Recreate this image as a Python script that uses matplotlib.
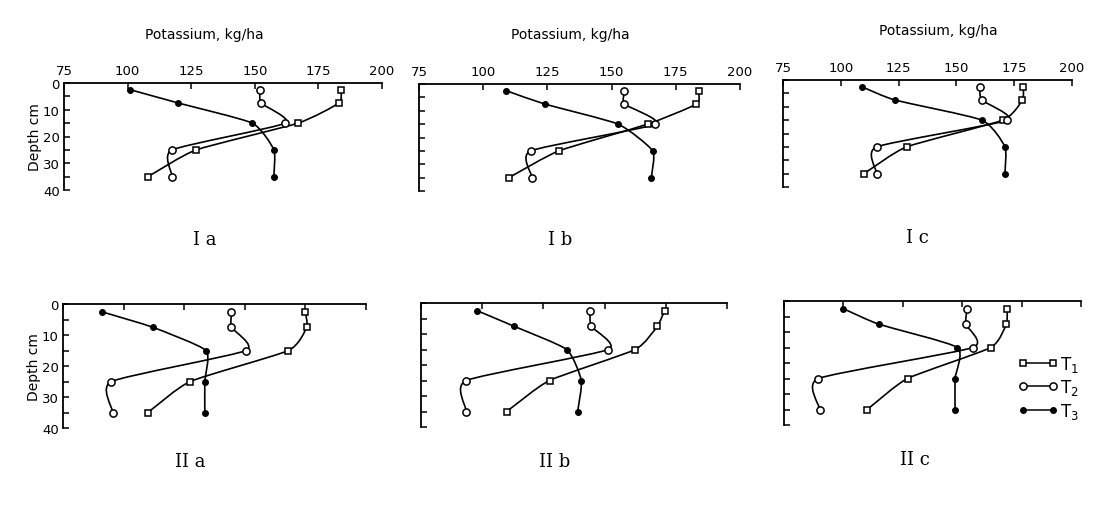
"""Depth profiles of available potassium under treatments T1-T3 (six panels)."""

import matplotlib

matplotlib.use("Agg")
import matplotlib.pyplot as plt
import numpy as np
from matplotlib.lines import Line2D
from matplotlib.patches import PathPatch
from matplotlib.path import Path


DEPTHS = [2.5, 7.5, 15, 25, 35]
X_TICKS = [75, 100, 125, 150, 175, 200]
Y_TICKS = [0, 10, 20, 30, 40]
Y_MINOR = [5, 15, 25, 35]

# potassium, kg/ha, per panel and treatment
IA_T1 = [184, 183, 167, 127, 108]
IA_T2 = [152, 152.5, 162, 117.5, 117.5]
IA_T3 = [101, 120, 149, 157.5, 157.5]

IB_T1 = [184, 183, 164, 129.5, 110]
IB_T2 = [155, 155, 167, 118.5, 119]
IB_T3 = [109, 124, 152.5, 166, 165.5]

IC_T1 = [179, 178.5, 170, 128.5, 110]
IC_T2 = [160, 161, 172, 115.5, 115.5]
IC_T3 = [109, 123.5, 161, 171, 171]

IIA_T1 = [175, 175.5, 168, 127.5, 110]
IIA_T2 = [144.5, 144.5, 150.5, 95, 95.5]
IIA_T3 = [91, 112, 134, 133.5, 133.5]

IIB_T1 = [174.5, 171.5, 162.5, 127.5, 110]
IIB_T2 = [144, 144.5, 151.5, 93.5, 93.5]
IIB_T3 = [98, 113, 134.5, 140.5, 139]

IIC_T1 = [169, 168.5, 162, 127, 110]
IIC_T2 = [152, 151.5, 154.5, 89.5, 90]
IIC_T3 = [100, 115, 148, 147, 147]

PANELS = [
    ("I a", (IA_T1, IA_T2, IA_T3)),
    ("I b", (IB_T1, IB_T2, IB_T3)),
    ("I c", (IC_T1, IC_T2, IC_T3)),
    ("II a", (IIA_T1, IIA_T2, IIA_T3)),
    ("II b", (IIB_T1, IIB_T2, IIB_T3)),
    ("II c", (IIC_T1, IIC_T2, IIC_T3)),
]
TREATMENTS = ["T$_1$", "T$_2$", "T$_3$"]

W, H = 1098, 510
# axes boxes in pixels: left, top, right, bottom
BOXES = [
    (64, 84, 382, 191),
    (419, 85, 740, 192),
    (783, 81, 1072, 188),
    (63, 305, 366, 429),
    (421, 304, 727, 428),
    (784, 302, 1081, 426),
]
LABEL_POS = [(205, 240), (560, 240), (917, 238), (190, 462), (555, 462), (915, 460)]
TITLE_POS = [(204, 35), (570, 35), (938, 31)]

MARKERS = [
    dict(marker="s", markersize=4.2, markerfacecolor="white", markeredgewidth=1.1),
    dict(marker="o", markersize=5.2, markerfacecolor="white", markeredgewidth=1.1),
    dict(marker="o", markersize=4.0, markerfacecolor="black", markeredgewidth=1.0),
]
TENSION = 0.55


def _smooth_path(x, y):
    # cardinal spline through the points, drawn as cubic bezier segments
    pts = np.column_stack([x, y]).astype(float)
    ext = np.vstack([2 * pts[0] - pts[1], pts, 2 * pts[-1] - pts[-2]])
    verts = [pts[0]]
    codes = [Path.MOVETO]
    for i in range(1, len(ext) - 2):
        p0, p1, p2, p3 = ext[i - 1], ext[i], ext[i + 1], ext[i + 2]
        verts += [p1 + TENSION * (p2 - p0) / 6.0, p2 - TENSION * (p3 - p1) / 6.0, p2]
        codes += [Path.CURVE4] * 3
    return Path(verts, codes)


def _axes(fig, box):
    left, top, right, bottom = box
    return fig.add_axes([left / W, 1 - bottom / H, (right - left) / W, (bottom - top) / H])


fig = plt.figure(figsize=(W / 100, H / 100), dpi=100)
fig.patch.set_facecolor("white")

for idx, (label, series) in enumerate(PANELS):
    ax = _axes(fig, BOXES[idx])
    ax.set_xlim(75, 200)
    ax.set_ylim(40, 0)
    for name in ("right", "bottom"):
        ax.spines[name].set_visible(False)
    for name in ("top", "left"):
        ax.spines[name].set_linewidth(1.3)
    ax.xaxis.set_ticks_position("top")
    ax.set_xticks(X_TICKS)
    ax.set_yticks(Y_TICKS)
    ax.set_yticks(Y_MINOR, minor=True)
    ax.tick_params(axis="both", which="both", direction="in", length=4, width=1.1,
                   labelsize=9.5)
    ax.tick_params(axis="x", pad=4, labeltop=idx < 3, labelbottom=False)
    ax.tick_params(axis="y", pad=3, labelleft=idx in (0, 3))
    ax.set_facecolor("none")

    for values, style in zip(series, MARKERS):
        ax.add_patch(PathPatch(_smooth_path(values, DEPTHS), facecolor="none",
                               edgecolor="black", linewidth=1.2, clip_on=False))
        ax.plot(values, DEPTHS, linestyle="none", color="black", clip_on=False, **style)

    if idx in (0, 3):
        ax.set_ylabel("Depth cm", fontsize=10, labelpad=1)

    lx, ly = LABEL_POS[idx]
    fig.text(lx / W, 1 - ly / H, label, ha="center", va="center",
             family="DejaVu Serif", fontsize=13)

    if idx == 5:
        handles = [Line2D([0], [0], color="black", linewidth=1.1, **style) for style in MARKERS]
        ax.legend(handles, TREATMENTS, numpoints=2, frameon=False, loc="upper left",
                  bbox_to_anchor=(0.76, 0.64), fontsize=12, handlelength=2.4,
                  handletextpad=0.1, labelspacing=0.2, borderpad=0)

for tx, ty in TITLE_POS:
    fig.text(tx / W, 1 - ty / H, "Potassium, kg/ha", ha="center", va="center", fontsize=10)

fig.savefig("out.png", dpi=100, facecolor="white")
plt.close(fig)
